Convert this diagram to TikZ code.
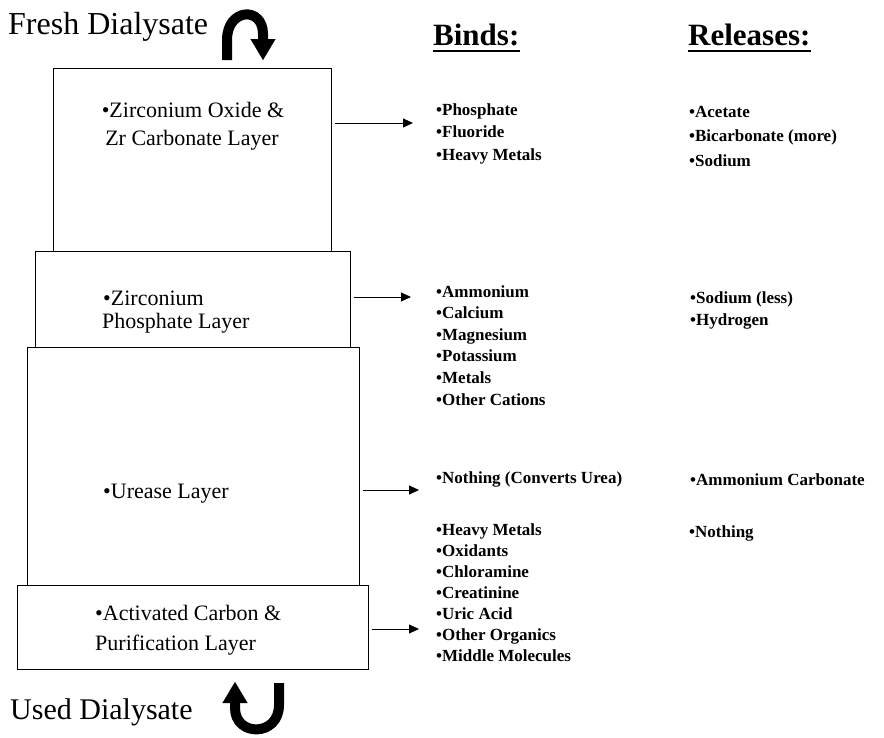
\documentclass[tikz,border=0pt]{standalone}
\usepackage{fontspec}
\setmainfont{Liberation Serif}
\usetikzlibrary{arrows.meta}
\begin{document}
\begin{tikzpicture}[x=1pt,y=-1pt,
  layerbox/.style={draw, line width=0.9pt, inner sep=0pt, anchor=north west},
  big/.style={font=\fontsize{#1}{36}\selectfont, inner sep=0pt, anchor=base west},
  head/.style={font=\bfseries\fontsize{31}{36}\selectfont, inner sep=0pt, anchor=base west},
  layertext/.style={font=\fontsize{22}{28}\selectfont, inner sep=0pt},
  itemlist/.style={font=\bfseries\fontsize{17}{#1}\selectfont, inner sep=0pt, align=left, anchor=north west},
  flow/.style={-{Triangle[length=10pt,width=9pt]}, line width=0.8pt, shorten <=3pt},
  bigarrow/.style={line width=10pt, -{Triangle[length=21pt,width=25pt,line width=0.1pt]}}
]
\useasboundingbox (0,0) rectangle (884,737);

% layers
\node[layerbox, minimum width=278pt, minimum height=183pt] (zrox) at (53,68) {};
\node[layerbox, minimum width=315pt, minimum height=96pt] (zrph) at (35,251) {};
\node[layerbox, minimum width=332pt, minimum height=238pt] (urease) at (27,347) {};
\node[layerbox, minimum width=351pt, minimum height=84pt] (carbon) at (17,585) {};

% layer labels
\node[layertext, anchor=base] (l1a) at (193,117) {•Zirconium Oxide \&};
\node[layertext, anchor=base] (l1b) at (192,145) {Zr Carbonate Layer};
\node[layertext, anchor=base west] (l2a) at (103,305) {•Zirconium};
\node[layertext, anchor=base west] (l2b) at (102,328) {Phosphate Layer};
\node[layertext, anchor=base west] (l3) at (103,498) {•Urease Layer};
\node[layertext, anchor=base west] (l4a) at (95,620) {•Activated Carbon \&};
\node[layertext, anchor=base west] (l4b) at (95,650) {Purification Layer};

% dialysate labels
\node[big=32] (fresh) at (8,34) {Fresh Dialysate};
\node[big=30] (used) at (10,719) {Used Dialysate};

% big curved arrows
\draw[bigarrow] (227,60) -- (227,40) .. controls (227,8) and (263,6) .. (263,34) -- (263,60);
\draw[bigarrow] (279,683) -- (279,705) .. controls (279,737) and (235,737) .. (235,708) -- (235,682);

% headings
\node[head] (binds) at (433,45) {Binds:};
\node[head] (releases) at (688,45) {Releases:};
\draw[line width=1.8pt] ([yshift=-6pt]binds.base west) -- ([yshift=-6pt]binds.base east);
\draw[line width=1.8pt] ([yshift=-6pt]releases.base west) -- ([yshift=-6pt]releases.base east);

% lists
\node[itemlist=22.5] (b1) at (436,103) {•Phosphate\\•Fluoride\\•Heavy Metals};
\node[itemlist=24.5] (r1) at (689,106) {•Acetate\\•Bicarbonate (more)\\•Sodium};
\node[itemlist=21.6] (b2) at (436,285) {•Ammonium\\•Calcium\\•Magnesium\\•Potassium\\•Metals\\•Other Cations};
\node[itemlist=22] (r2) at (690,291) {•Sodium (less)\\•Hydrogen};
\node[itemlist=21] (b3) at (436,471) {•Nothing (Converts Urea)};
\node[itemlist=21] (r3) at (690,473) {•Ammonium Carbonate};
\node[itemlist=21] (b4) at (436,523) {•Heavy Metals\\•Oxidants\\•Chloramine\\•Creatinine\\•Uric Acid\\•Other Organics\\•Middle Molecules};
\node[itemlist=21] (r4) at (689,525) {•Nothing};

% flow arrows
\coordinate (t1) at (413,123);
\coordinate (t2) at (411,297);
\coordinate (t3) at (419,490);
\coordinate (t4) at (419,629);
\draw[flow] (zrox.east |- t1) -- (t1);
\draw[flow] (zrph.east |- t2) -- (t2);
\draw[flow] (urease.east |- t3) -- (t3);
\draw[flow] (carbon.east |- t4) -- (t4);
\end{tikzpicture}
\end{document}
